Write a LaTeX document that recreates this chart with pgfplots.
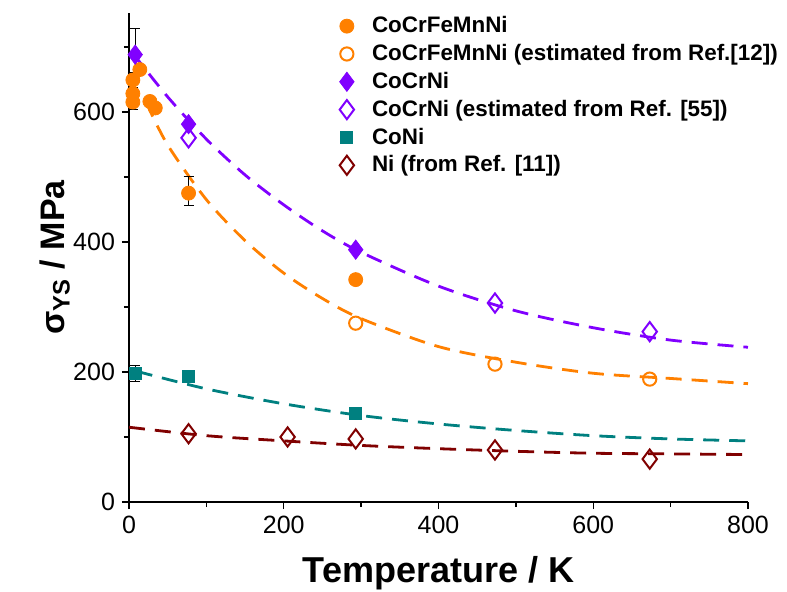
\documentclass[border=0pt]{standalone}
\usepackage{fontspec}
\setmainfont{Liberation Sans}
\usepackage{pgfplots}
\pgfplotsset{compat=1.18}

\definecolor{cOrange}{RGB}{255,128,0}
\definecolor{cPurple}{RGB}{128,0,255}
\definecolor{cTeal}{RGB}{0,128,128}
\definecolor{cRed}{RGB}{128,0,0}

\begin{document}
\begin{tikzpicture}
\begin{axis}[
    scale only axis, width=309.5pt, height=244.5pt,
    xmin=0, xmax=800, ymin=0, ymax=752,
    axis lines=left, axis line style={-, line width=0.8pt},
    xtick={0,200,...,800}, ytick={0,200,400,600},
    minor xtick={100,300,500,700}, minor ytick={100,300,500,700},
    tick align=outside, major tick length=3.5pt, minor tick length=2.5pt,
    tick style={black, line width=0.7pt},
    ticklabel style={font=\fontsize{12.5}{14}\selectfont},
    /pgf/number format/assume math mode=true,
    xlabel={Temperature / K},
    ylabel={σ\textsubscript{YS} / MPa},
    xlabel style={font=\fontsize{18}{20}\selectfont\bfseries, at={(axis description cs:0.5,-0.165)}, anchor=base},
    ylabel style={font=\fontsize{17}{20}\selectfont\bfseries, at={(axis description cs:-0.12,0.5)}, anchor=center},
    legend style={draw=none, fill=none, at={(axis description cs:0.33,1.01)}, anchor=north west,
        font=\fontsize{11.2}{13}\selectfont\bfseries, row sep=0.3pt,
        /tikz/every odd column/.append style={column sep=7pt}},
    legend cell align=left,
    clip=false,
]
% fitted dashed curves
\addplot[forget plot, cPurple, line width=1.4pt, dash pattern=on 8pt off 5pt, smooth] coordinates {
    (5,690) (50,623) (100,558) (150,503) (200,457) (250,417) (300,384)
    (400,332) (500,294) (600,268) (700,249) (800,238)
};
\addplot[forget plot, cOrange, line width=1.4pt, dash pattern=on 8pt off 5pt, smooth] coordinates {
    (22,615) (50,549) (100,465) (150,402) (200,352) (250,313) (300,282)
    (400,239) (500,215) (600,198) (700,190) (800,182)
};
\addplot[forget plot, cTeal, line width=1.4pt, dash pattern=on 8pt off 5pt, smooth] coordinates {
    (10,201) (100,174) (200,151) (300,133) (400,120) (500,110) (600,102) (700,97) (800,94)
};
\addplot[forget plot, cRed, line width=1.4pt, dash pattern=on 8pt off 5pt, smooth] coordinates {
    (0,115) (100,102) (200,94) (300,87) (400,82) (500,78) (600,75) (700,74) (800,73)
};
% data
\addplot[only marks, mark=*, mark size=3.5pt, color=cOrange, fill=cOrange] coordinates {
    (5,649) (5,628) (5,615) (14,665) (27,616) (34,606) (77,475) (293,342)
};
\addlegendentry{CoCrFeMnNi}
\addplot[only marks, mark=o, mark size=3.3pt, color=cOrange, line width=1pt] coordinates {
    (293,275) (473,212) (673,189)
};
\addlegendentry{CoCrFeMnNi (estimated from Ref.[12])}
\addplot[only marks, mark=diamond*, mark size=4.8pt, color=cPurple, fill=cPurple] coordinates {
    (8,688) (77,581) (293,388)
};
\addlegendentry{CoCrNi}
\addplot[only marks, mark=diamond, mark size=4.8pt, color=cPurple, line width=1pt] coordinates {
    (77,560) (473,306) (673,262)
};
\addlegendentry{CoCrNi (estimated from Ref. [55])}
\addplot[only marks, mark=square*, mark size=3pt, color=cTeal, fill=cTeal] coordinates {
    (8,198) (77,193) (293,137)
};
\addlegendentry{CoNi}
\addplot[only marks, mark=diamond, mark size=4.8pt, color=cRed, line width=1pt] coordinates {
    (77,105) (205,100) (293,97) (473,80) (673,66)
};
\addlegendentry{Ni (from Ref. [11])}
% error bars
\addplot[forget plot, draw=none, mark=none,
    error bars/.cd, y dir=both, y explicit,
    error bar style={draw=black, line width=0.5pt},
    error mark options={draw=black, rotate=90, mark size=2.5pt, line width=0.5pt}] coordinates {
    (8,688) +- (0,40)
    (5,649) +- (0,12)
    (5,628) +- (0,25)
    (77,478) +- (0,22)
    (8,198) +- (0,12)
};
\end{axis}
\pgfresetboundingbox
\path ([xshift=-64.5pt,yshift=-44.5pt]current axis.south west) rectangle ([xshift=19.5pt,yshift=6.5pt]current axis.north east);
\end{tikzpicture}
\end{document}
